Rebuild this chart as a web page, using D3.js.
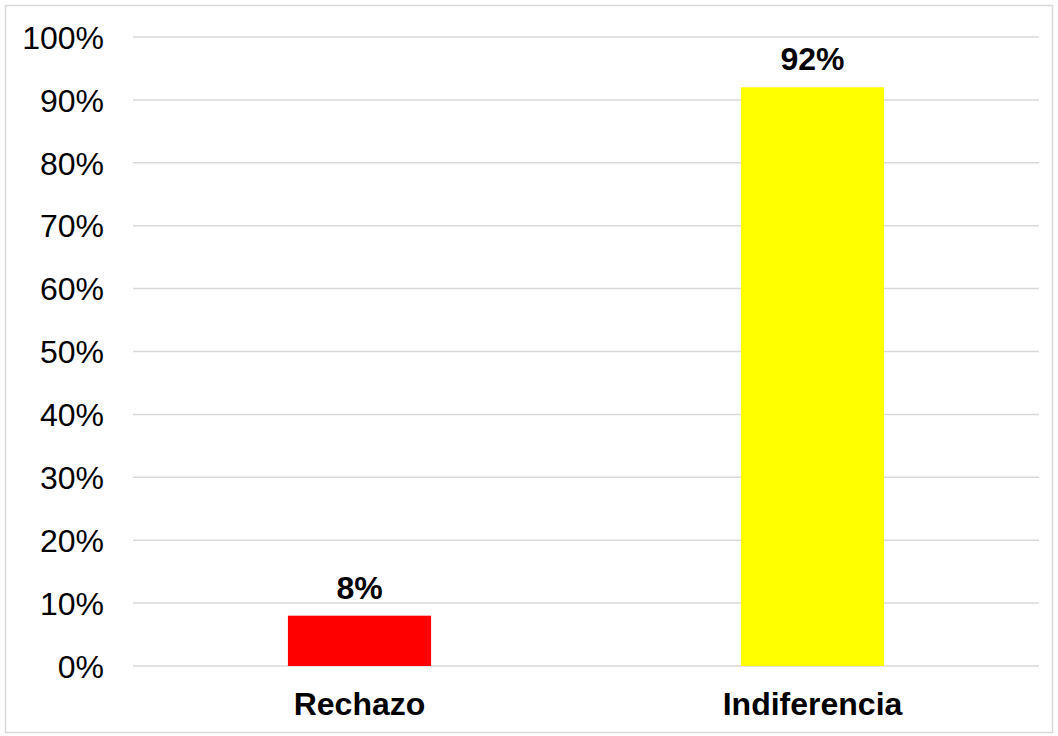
<!DOCTYPE html>
<html>
<head>
<meta charset="utf-8">
<script src="https://cdn.jsdelivr.net/npm/d3@7"></script>
<style>
  body { margin: 0; background: #fff; }
  svg { display: block; font-family: "Liberation Sans", Arial, sans-serif; }
</style>
</head>
<body>
<div id="chart"></div>
<script>
// data
var categories = ["Rechazo", "Indiferencia"];
var values = [0.08, 0.92];
var colors = ["#ff0000", "#ffff00"];
var tickValues = [0, 0.1, 0.2, 0.3, 0.4, 0.5, 0.6, 0.7, 0.8, 0.9, 1.0];

var width = 1058, height = 736;
var margin = {top: 37, right: 19, bottom: 70, left: 133};
var fontSize = 32;

var svg = d3.select("#chart")
    .append("svg")
    .attr("width", width)
    .attr("height", height);

// outer frame
svg.append("rect")
    .attr("x", 5.5).attr("y", 5.5)
    .attr("width", width - 11).attr("height", height - 9)
    .attr("fill", "#fff")
    .attr("stroke", "#d9d9d9")
    .attr("stroke-width", 1.5);

var x = d3.scaleBand()
    .domain(categories)
    .range([margin.left, width - margin.right])
    .paddingInner(0.684)
    .paddingOuter(0.342);

var y = d3.scaleLinear()
    .domain([0, 1])
    .range([height - margin.bottom, margin.top]);

// gridlines
svg.append("g")
    .selectAll("line")
    .data(tickValues)
    .enter()
    .append("line")
    .attr("x1", margin.left)
    .attr("x2", width - margin.right)
    .attr("y1", function (d) { return y(d); })
    .attr("y2", function (d) { return y(d); })
    .attr("stroke", "#d9d9d9")
    .attr("stroke-width", 1.5);

// y axis labels
var yAxis = d3.axisLeft(y)
    .tickValues(tickValues)
    .tickFormat(d3.format(".0%"))
    .tickSize(0)
    .tickPadding(0);

var gy = svg.append("g")
    .attr("transform", "translate(104,0)")
    .call(yAxis);
gy.select(".domain").remove();
gy.selectAll("text")
    .attr("font-family", "Liberation Sans, Arial, sans-serif")
    .attr("font-size", fontSize)
    .attr("fill", "#000")
    .attr("dy", "0.35em");

// bars
svg.selectAll(".bar")
    .data(values)
    .enter()
    .append("rect")
    .attr("class", "bar")
    .attr("x", function (d, i) { return x(categories[i]); })
    .attr("width", x.bandwidth())
    .attr("y", function (d) { return y(d); })
    .attr("height", function (d) { return y(0) - y(d); })
    .attr("fill", function (d, i) { return colors[i]; });

// value labels
svg.selectAll(".val")
    .data(values)
    .enter()
    .append("text")
    .attr("class", "val")
    .attr("x", function (d, i) { return x(categories[i]) + x.bandwidth() / 2; })
    .attr("y", function (d) { return y(d) - 17; })
    .attr("text-anchor", "middle")
    .attr("font-size", fontSize)
    .attr("font-weight", "bold")
    .attr("fill", "#000")
    .text(function (d) { return Math.round(d * 100) + "%"; });

// category labels
var xAxis = d3.axisBottom(x).tickSize(0).tickPadding(0);
var gx = svg.append("g")
    .attr("transform", "translate(0," + (height - margin.bottom) + ")")
    .call(xAxis);
gx.select(".domain").remove();
gx.selectAll("text")
    .attr("font-family", "Liberation Sans, Arial, sans-serif")
    .attr("font-size", fontSize)
    .attr("font-weight", "bold")
    .attr("fill", "#000")
    .attr("dy", 0)
    .attr("y", 49);
</script>
</body>
</html>
